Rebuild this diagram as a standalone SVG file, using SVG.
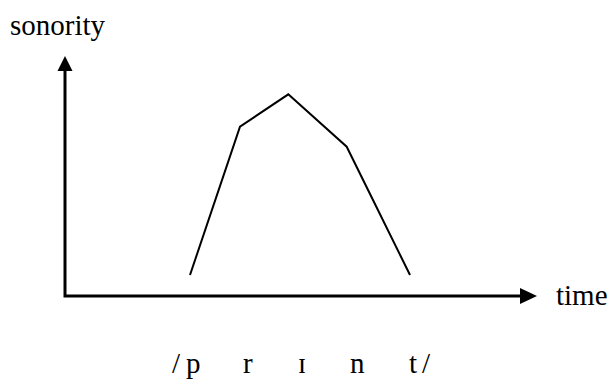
<svg xmlns="http://www.w3.org/2000/svg" width="611" height="379" viewBox="0 0 611 379">
<style>
text{font-family:'Liberation Serif','DejaVu Serif',serif;font-size:29px;fill:#000}
.ax{stroke:#000;stroke-width:3;fill:none}
.curve{stroke:#000;stroke-width:2;fill:none;stroke-linejoin:miter}
</style>
<rect width="611" height="379" fill="#fff"/>
<g id="connectors">
<path class="ax" d="M65,296 V70 M63.5,296 H522"/>
<polygon points="65,56 57.5,71 72.5,71" fill="#000"/>
<polygon points="537,296 520,288 520,304" fill="#000"/>
<polyline class="curve" points="190,275 240,126.7 288.3,94.3 346.7,146.7 410,275"/>
</g>
<g id="label-sonority"><text x="10" y="35">sonority</text></g>
<g id="label-time"><text x="556" y="305">time</text></g>
<g id="label-print">
<text x="172" y="373">/</text>
<text x="186" y="373">p</text>
<text x="243" y="373">r</text>
<text x="298" y="373">ɪ</text>
<text x="350" y="373">n</text>
<text x="409" y="373">t</text>
<text x="422" y="373">/</text>
</g>
</svg>
